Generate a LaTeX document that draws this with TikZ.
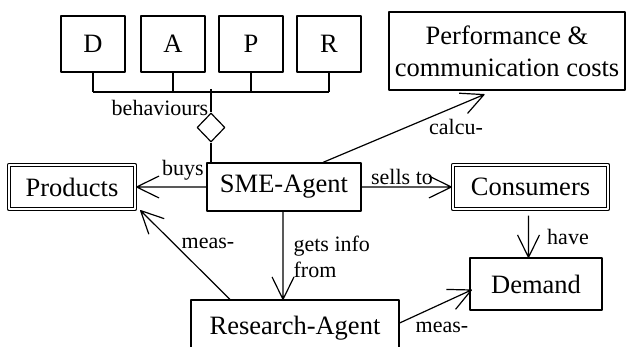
\documentclass[tikz,border=0pt]{standalone}
\usepackage{fontspec}
\setmainfont{Liberation Serif}
\usetikzlibrary{shapes.geometric,calc}

\begin{document}
\begin{tikzpicture}[x=1pt,y=-1pt,line width=1.2pt,line join=round,
  box/.style={draw,inner sep=0pt,align=center,font=\fontsize{26.5}{32}\selectfont},
  dbox/.style={box,double,double distance=2.2pt},
  lbl/.style={inner sep=0pt,font=\fontsize{22}{26}\selectfont},
  % straight open V-shaped head drawn at the target end
  varr/.style={to path={-- (\tikztotarget)
    ($(\tikztotarget)!25pt!26:(\tikztostart)$) -- (\tikztotarget)
    -- ($(\tikztotarget)!25pt!-26:(\tikztostart)$)}}]
  \clip (0,0) rectangle (628,347);

  % behaviour boxes
  \node[box,minimum width=64pt,minimum height=56pt] (D) at (93,44) {D};
  \node[box,minimum width=64pt,minimum height=56pt] (A) at (173,44) {A};
  \node[box,minimum width=64pt,minimum height=56pt] (P) at (251,44) {P};
  \node[box,minimum width=64pt,minimum height=56pt] (R) at (329,44) {R};

  % main agents and objects
  \node[box,minimum width=236pt,minimum height=78pt] (Perf) at (507,51)
    {Performance \&\\communication costs};
  \node[box,minimum width=154pt,minimum height=48pt] (SME) at (284,187) {SME-Agent};
  \node[dbox,minimum width=126pt,minimum height=44pt] (Prod) at (72,187) {Products};
  \node[dbox,minimum width=155pt,minimum height=44pt] (Cons) at (530.5,187) {Consumers};
  \node[box,minimum width=132pt,minimum height=52pt] (Dem) at (536,284) {Demand};
  \node[box,minimum width=208pt,minimum height=56pt] (Res) at (295,328) {Research-Agent};

  % aggregation of behaviours
  \coordinate (bus) at (211,92);
  \node[diamond,draw,inner sep=0pt,minimum width=28pt,minimum height=29pt] (agg) at (211,127.5) {};
  \foreach \b in {D,A,P,R} \draw (\b.south) -- (\b.south |- bus);
  \draw (D.south |- bus) -- (R.south |- bus);
  \draw ([yshift=3pt]bus) -- (agg.north);
  \draw (agg.south) -- (agg.south |- SME.north);
  \node[lbl] (lbeh) at (160,108) {behaviours};

  % relations
  \draw (SME.west) to[varr] ([xshift=1pt]Prod.east);
  \node[lbl] (lbuys) at (183,170) {buys};
  \draw (SME.east) to[varr] ([xshift=-1pt]Cons.west);
  \node[lbl] (lsells) at (402,177) {sells to};
  \draw ([xshift=39pt]SME.north) to[varr] ([xshift=-23pt,yshift=-4pt]Perf.south);
  \node[lbl] (lcalc) at (456,127) {calcu-};
  \draw ([xshift=-1pt]SME.south) to[varr] ([xshift=-1pt]SME.south |- Res.north);
  \node[lbl,align=left,anchor=west] (lgets) at (293,257) {gets info\\from};
  \draw ([xshift=-65pt]Res.north) to[varr] ([xshift=5pt,yshift=-1pt]Prod.south east);
  \node[lbl] (lmeas1) at (208,243) {meas-};
  \draw ([xshift=-2pt,yshift=-6pt]Cons.south) to[varr] ([xshift=-2pt]Cons.south |- Dem.north);
  \node[lbl] (lhave) at (568,237) {have};
  \draw ([yshift=5pt]Res.east) to[varr] ([xshift=2pt,yshift=-6pt]Dem.west);
  \node[lbl] (lmeas2) at (442,327) {meas-};
\end{tikzpicture}
\end{document}
